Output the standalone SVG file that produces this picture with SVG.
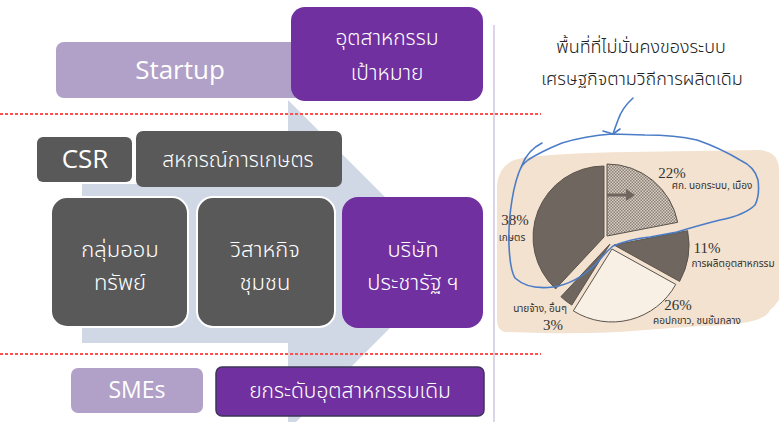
<svg xmlns="http://www.w3.org/2000/svg" width="779" height="422" viewBox="0 0 779 422">
<defs>
<style>
.lat{font-family:"Open Sans","Noto Sans",sans-serif;fill:#fff;text-anchor:middle}
.th{font-family:"Noto Sans Thai","Leelawadee UI","Tahoma","DejaVu Sans","Noto Sans",sans-serif;fill:#fff;text-anchor:middle;font-weight:300}
.dark{fill:#595959}
.purple{fill:#7030a0}
.lilac{fill:#b1a0c7}
.dash{stroke:#ff4f4f;stroke-width:2;stroke-dasharray:3 2;fill:none}
.pie{font-family:"Liberation Serif","Noto Sans Thai",serif;fill:#333;text-anchor:middle}
.slice{stroke:#5a534c;stroke-width:1}
.ink{fill:none;stroke:#4a7cc7;stroke-width:1.6;stroke-linecap:round;stroke-linejoin:round}
</style>
<pattern id="hatch" width="3" height="3" patternUnits="userSpaceOnUse">
<rect width="3" height="3" fill="#d9cfc3"/>
<rect width="1.5" height="1.5" fill="#8a8076"/>
<rect x="1.5" y="1.5" width="1.5" height="1.5" fill="#8a8076"/>
</pattern>
</defs>
<rect width="779" height="422" fill="#fff"/>

<!-- background arrow -->
<path d="M82,184 L288,184 L288,100 L453,265 L288,430 L288,343 L82,343 Z" fill="#d0d7e5"/>

<!-- separators -->
<g id="separators">
<line class="dash" x1="0" y1="114" x2="541" y2="114"/>
<line class="dash" x1="0" y1="354" x2="541" y2="354"/>
<line x1="494" y1="25" x2="494" y2="422" stroke="#dcd5ea" stroke-width="2"/>
</g>

<g id="startup">
<rect class="lilac" x="56" y="42" width="246" height="56" rx="8"/>
<text class="lat" x="180" y="79" font-size="26">Startup</text>
</g>
<g id="target">
<rect class="purple" x="291" y="7" width="192" height="94" rx="14"/>
<text class="th" x="387" y="45" font-size="21">อุตสาหกรรม</text>
<text class="th" x="387" y="80" font-size="21">เป้าหมาย</text>
</g>

<g id="csr">
<rect class="dark" x="37" y="137" width="95" height="45" rx="6"/>
<text class="lat" x="85" y="168" font-size="26">CSR</text>
</g>
<g id="coop">
<rect class="dark" x="136" y="131" width="206" height="56" rx="7"/>
<text class="th" x="238" y="167" font-size="21">สหกรณ์การเกษตร</text>
</g>

<g id="savings">
<rect class="dark" x="51" y="197" width="137" height="130" rx="16" stroke="#fff" stroke-width="2"/>
<text class="th" x="120" y="257" font-size="22">กลุ่มออม</text>
<text class="th" x="120" y="290" font-size="22">ทรัพย์</text>
</g>
<g id="community">
<rect class="dark" x="197" y="197" width="138" height="130" rx="16" stroke="#fff" stroke-width="2"/>
<text class="th" x="265" y="257" font-size="22">วิสาหกิจ</text>
<text class="th" x="265" y="290" font-size="22">ชุมชน</text>
</g>
<g id="pracharat">
<rect class="purple" x="342" y="197" width="141" height="131" rx="16"/>
<text class="th" x="413" y="257" font-size="22">บริษัท</text>
<text class="th" x="413" y="290" font-size="22">ประชารัฐ ฯ</text>
</g>

<g id="smes">
<rect class="lilac" x="71" y="368" width="132" height="45" rx="7"/>
<text class="lat" x="137" y="398" font-size="23">SMEs</text>
</g>
<g id="upgrade">
<rect class="purple" x="216" y="367" width="268" height="49" rx="6" stroke="#3d3558" stroke-width="1.5"/>
<text class="th" x="350" y="398" font-size="21">ยกระดับอุตสาหกรรมเดิม</text>
</g>

<!-- right side -->
<g id="title">
<text class="th" x="641" y="53" font-size="18" style="fill:#222">พื้นที่ที่ไม่มั่นคงของระบบ</text>
<text class="th" x="642" y="85" font-size="18" style="fill:#222">เศรษฐกิจตามวิถีการผลิตเดิม</text>
</g>

<g id="chart">
<path d="M497,185 Q499,162 522,158 Q560,153 630,152 L760,150 Q779,152 779,170 L779,300 Q775,306 770,310 Q765,325 700,326 L645,330 Q600,334 545,333 L505,332 Q497,330 497,320 Z" fill="#f3e2cf"/>
<path class="slice" d="M604,237 L555.6,288.9 A71,71 0 0 1 604,166 Z" fill="#6f675f"/>
<path class="slice" d="M607,236 L607,164 A72,72 0 0 1 677.7,222.3 Z" fill="url(#hatch)"/>
<path class="slice" d="M614,245 L687.6,230.7 A75,75 0 0 1 679.6,281.4 Z" fill="#6f675f"/>
<path class="slice" d="M612,249 L675.8,284.4 A73,73 0 0 1 573.3,310.9 Z" fill="#f8f0e4"/>
<path class="slice" d="M610,244 L571.8,305.1 A72,72 0 0 1 560.9,296.7 Z" fill="#6f675f"/>
<line x1="607" y1="195" x2="628" y2="195" stroke="#6f675f" stroke-width="3"/>
<path d="M626,189 L635,195 L626,201 Z" fill="#6f675f"/>
<text class="pie" x="672" y="178" font-size="15">22%</text>
<text class="pie" x="712" y="189" font-size="10">ศก. นอกระบบ, เมือง</text>
<text class="pie" x="515" y="225" font-size="15">38%</text>
<text class="pie" x="512" y="241" font-size="10">เกษตร</text>
<text class="pie" x="707" y="253" font-size="15">11%</text>
<text class="pie" x="733" y="267" font-size="10">การผลิตอุตสาหกรรม</text>
<text class="pie" x="678" y="310" font-size="15">26%</text>
<text class="pie" x="697" y="324" font-size="10">คอปกขาว, ชนชั้นกลาง</text>
<text class="pie" x="540" y="312" font-size="10">นายจ้าง, อื่นๆ</text>
<text class="pie" x="553" y="330" font-size="15">3%</text>
</g>

<g id="annotation">
<path class="ink" d="M633,98 Q622,108 618,120 Q615,128 613,134"/>
<path class="ink" d="M603,131 L613,134 L620,129"/>
<path class="ink" d="M542,143 Q528,150 522,165 Q515,180 512,200 Q508,225 509,245 Q510,270 515,278 Q528,290 553,287 Q575,284 595,265 Q605,253 613,246 Q630,239 650,237 L677,232 Q700,225 720,220 Q745,215 755,205 Q760,195 758,180 Q755,167 740,160 Q720,148 697,140 Q675,135 645,135 L612,134 Q585,136 562,143 Q540,152 528,160 Q522,165 521,168"/>
</g>
</svg>
